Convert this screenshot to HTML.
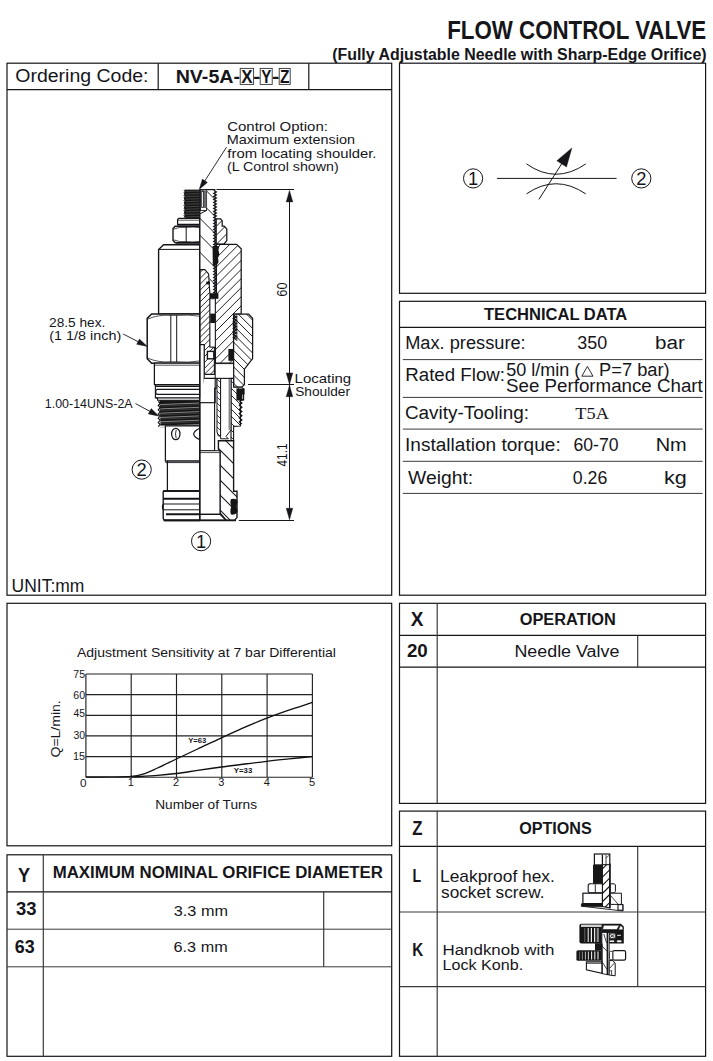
<!DOCTYPE html>
<html><head><meta charset="utf-8"><title>Flow Control Valve NV-5A</title>
<style>
html,body{margin:0;padding:0;background:#fff;}
body{width:713px;height:1061px;overflow:hidden;font-family:"Liberation Sans",sans-serif;}
svg{display:block;}
text{white-space:pre;}
</style></head><body>
<svg width="713" height="1061" viewBox="0 0 713 1061">
<rect x="0" y="0" width="713" height="1061" fill="#ffffff"/>
<text x="447.19" y="39.0" font-size="24.9" font-weight="bold" font-family='"Liberation Sans", sans-serif' fill="#15151a" textLength="259.01" lengthAdjust="spacingAndGlyphs" >FLOW CONTROL VALVE</text>
<text x="332.20" y="59.7" font-size="16.3" font-weight="bold" font-family='"Liberation Sans", sans-serif' fill="#15151a" textLength="374.40" lengthAdjust="spacingAndGlyphs" >(Fully Adjustable Needle with Sharp-Edge Orifice)</text>
<rect x="7.0" y="63.2" width="384.7" height="532.0" fill="none" stroke="#15151a" stroke-width="1.2"/>
<line x1="7.0" y1="89.6" x2="391.7" y2="89.6" stroke="#15151a" stroke-width="1.2" />
<line x1="158.2" y1="63.2" x2="158.2" y2="89.6" stroke="#15151a" stroke-width="1.2" />
<line x1="308.8" y1="63.2" x2="308.8" y2="89.6" stroke="#15151a" stroke-width="1.2" />
<rect x="399.5" y="63.2" width="306.1" height="230.1" fill="none" stroke="#15151a" stroke-width="1.2"/>
<rect x="399.5" y="301.3" width="306.1" height="293.9" fill="none" stroke="#15151a" stroke-width="1.2"/>
<line x1="399.5" y1="327.4" x2="705.6" y2="327.4" stroke="#15151a" stroke-width="1.2" />
<line x1="402.8" y1="359.6" x2="702.6" y2="359.6" stroke="#3a3a3a" stroke-width="1.0" />
<line x1="402.8" y1="397.4" x2="702.6" y2="397.4" stroke="#3a3a3a" stroke-width="1.0" />
<line x1="402.8" y1="429.1" x2="702.6" y2="429.1" stroke="#3a3a3a" stroke-width="1.0" />
<line x1="402.8" y1="461.3" x2="702.6" y2="461.3" stroke="#3a3a3a" stroke-width="1.0" />
<line x1="402.8" y1="493.4" x2="702.6" y2="493.4" stroke="#3a3a3a" stroke-width="1.0" />
<rect x="7.0" y="603.3" width="384.7" height="242.5" fill="none" stroke="#15151a" stroke-width="1.2"/>
<rect x="399.5" y="603.3" width="306.1" height="200.1" fill="none" stroke="#15151a" stroke-width="1.2"/>
<line x1="399.5" y1="635.4" x2="705.6" y2="635.4" stroke="#15151a" stroke-width="1.2" />
<line x1="399.5" y1="667.2" x2="705.6" y2="667.2" stroke="#15151a" stroke-width="1.2" />
<line x1="437.2" y1="603.3" x2="437.2" y2="803.4" stroke="#3a3a3a" stroke-width="1.2" />
<line x1="637.7" y1="635.4" x2="637.7" y2="667.2" stroke="#3a3a3a" stroke-width="1.2" />
<rect x="399.5" y="811.1" width="306.1" height="245.2" fill="none" stroke="#15151a" stroke-width="1.2"/>
<line x1="399.5" y1="846.4" x2="705.6" y2="846.4" stroke="#15151a" stroke-width="1.2" />
<line x1="399.5" y1="912.0" x2="705.6" y2="912.0" stroke="#3a3a3a" stroke-width="1.1" />
<line x1="399.5" y1="986.6" x2="705.6" y2="986.6" stroke="#3a3a3a" stroke-width="1.2" />
<line x1="437.2" y1="811.1" x2="437.2" y2="1056.3" stroke="#3a3a3a" stroke-width="1.2" />
<line x1="637.7" y1="846.4" x2="637.7" y2="986.6" stroke="#3a3a3a" stroke-width="1.2" />
<rect x="7.0" y="854.8" width="384.7" height="201.5" fill="none" stroke="#15151a" stroke-width="1.2"/>
<line x1="7.0" y1="891.8" x2="391.7" y2="891.8" stroke="#15151a" stroke-width="1.2" />
<line x1="7.0" y1="929.2" x2="391.7" y2="929.2" stroke="#3a3a3a" stroke-width="1.0" />
<line x1="7.0" y1="966.8" x2="391.7" y2="966.8" stroke="#3a3a3a" stroke-width="1.0" />
<line x1="43.3" y1="854.8" x2="43.3" y2="1056.3" stroke="#3a3a3a" stroke-width="1.2" />
<line x1="323.7" y1="891.8" x2="323.7" y2="966.8" stroke="#3a3a3a" stroke-width="1.2" />
<text x="15.27" y="82.1" font-size="18.3" font-weight="normal" font-family='"Liberation Sans", sans-serif' fill="#15151a" textLength="133.27" lengthAdjust="spacingAndGlyphs" >Ordering Code:</text>
<text x="175.68" y="82.8" font-size="18.9" font-weight="bold" font-family='"Liberation Sans", sans-serif' fill="#15151a" textLength="64.33" lengthAdjust="spacingAndGlyphs" >NV-5A-</text>
<rect x="240.2" y="68.4" width="13.4" height="16.0" fill="none" stroke="#333" stroke-width="0.9"/>
<text x="241.23" y="82.8" font-size="18.9" font-weight="bold" font-family='"Liberation Sans", sans-serif' fill="#15151a" textLength="11.33" lengthAdjust="spacingAndGlyphs" >X</text>
<rect x="260.2" y="68.4" width="12.0" height="16.0" fill="none" stroke="#333" stroke-width="0.9"/>
<text x="261.13" y="82.8" font-size="18.9" font-weight="bold" font-family='"Liberation Sans", sans-serif' fill="#15151a" textLength="10.12" lengthAdjust="spacingAndGlyphs" >Y</text>
<rect x="279.2" y="68.4" width="11.0" height="16.0" fill="none" stroke="#333" stroke-width="0.9"/>
<text x="279.93" y="82.8" font-size="18.9" font-weight="bold" font-family='"Liberation Sans", sans-serif' fill="#15151a" textLength="9.51" lengthAdjust="spacingAndGlyphs" >Z</text>
<text x="253.34" y="82.8" font-size="18.9" font-weight="bold" font-family='"Liberation Sans", sans-serif' fill="#15151a" textLength="7.12" lengthAdjust="spacingAndGlyphs" >-</text>
<text x="272.01" y="82.8" font-size="18.9" font-weight="bold" font-family='"Liberation Sans", sans-serif' fill="#15151a" textLength="7.39" lengthAdjust="spacingAndGlyphs" >-</text>
<text x="484.03" y="319.6" font-size="17.4" font-weight="bold" font-family='"Liberation Sans", sans-serif' fill="#15151a" textLength="143.30" lengthAdjust="spacingAndGlyphs" >TECHNICAL DATA</text>
<text x="405.20" y="349.3" font-size="17.6" font-weight="normal" font-family='"Liberation Sans", sans-serif' fill="#15151a" textLength="120.46" lengthAdjust="spacingAndGlyphs" >Max. pressure:</text>
<text x="577.33" y="349.3" font-size="17.6" font-weight="normal" font-family='"Liberation Sans", sans-serif' fill="#15151a" textLength="29.86" lengthAdjust="spacingAndGlyphs" >350</text>
<text x="655.06" y="349.3" font-size="17.6" font-weight="normal" font-family='"Liberation Sans", sans-serif' fill="#15151a" textLength="29.75" lengthAdjust="spacingAndGlyphs" >bar</text>
<text x="405.26" y="380.6" font-size="17.6" font-weight="normal" font-family='"Liberation Sans", sans-serif' fill="#15151a" textLength="99.74" lengthAdjust="spacingAndGlyphs" >Rated Flow:</text>
<text x="506.18" y="376.1" font-size="17.6" font-weight="normal" font-family='"Liberation Sans", sans-serif' fill="#15151a" textLength="74.11" lengthAdjust="spacingAndGlyphs" >50 l/min (</text>
<path d="M581.8 376.2 L587.4 366.4 L593.0 376.2 Z" fill="none" stroke="#15151a" stroke-width="0.9" />
<text x="599.09" y="376.1" font-size="17.6" font-weight="normal" font-family='"Liberation Sans", sans-serif' fill="#15151a" textLength="70.62" lengthAdjust="spacingAndGlyphs" >P=7 bar)</text>
<text x="506.06" y="392.1" font-size="17.6" font-weight="normal" font-family='"Liberation Sans", sans-serif' fill="#15151a" textLength="196.69" lengthAdjust="spacingAndGlyphs" >See Performance Chart</text>
<text x="404.95" y="419.0" font-size="17.6" font-weight="normal" font-family='"Liberation Sans", sans-serif' fill="#15151a" textLength="124.06" lengthAdjust="spacingAndGlyphs" >Cavity-Tooling:</text>
<text x="575.38" y="418.6" font-size="17.3" font-weight="normal" font-family='"Liberation Serif", serif' fill="#15151a" textLength="33.57" lengthAdjust="spacingAndGlyphs" >T5A</text>
<text x="405.04" y="450.8" font-size="17.6" font-weight="normal" font-family='"Liberation Sans", sans-serif' fill="#15151a" textLength="155.67" lengthAdjust="spacingAndGlyphs" >Installation torque:</text>
<text x="573.52" y="450.8" font-size="17.6" font-weight="normal" font-family='"Liberation Sans", sans-serif' fill="#15151a" textLength="45.04" lengthAdjust="spacingAndGlyphs" >60-70</text>
<text x="655.65" y="450.8" font-size="17.6" font-weight="normal" font-family='"Liberation Sans", sans-serif' fill="#15151a" textLength="31.05" lengthAdjust="spacingAndGlyphs" >Nm</text>
<text x="408.00" y="483.9" font-size="17.6" font-weight="normal" font-family='"Liberation Sans", sans-serif' fill="#15151a" textLength="65.23" lengthAdjust="spacingAndGlyphs" >Weight:</text>
<text x="572.79" y="483.9" font-size="17.6" font-weight="normal" font-family='"Liberation Sans", sans-serif' fill="#15151a" textLength="34.49" lengthAdjust="spacingAndGlyphs" >0.26</text>
<text x="663.94" y="483.9" font-size="17.6" font-weight="normal" font-family='"Liberation Sans", sans-serif' fill="#15151a" textLength="22.84" lengthAdjust="spacingAndGlyphs" >kg</text>
<text x="410.81" y="625.8" font-size="19.9" font-weight="bold" font-family='"Liberation Sans", sans-serif' fill="#15151a" textLength="12.67" lengthAdjust="spacingAndGlyphs" >X</text>
<text x="519.75" y="624.5" font-size="17.2" font-weight="bold" font-family='"Liberation Sans", sans-serif' fill="#15151a" textLength="95.97" lengthAdjust="spacingAndGlyphs" >OPERATION</text>
<text x="406.94" y="656.9" font-size="17.9" font-weight="bold" font-family='"Liberation Sans", sans-serif' fill="#15151a" textLength="20.85" lengthAdjust="spacingAndGlyphs" >20</text>
<text x="514.43" y="656.5" font-size="15.8" font-weight="normal" font-family='"Liberation Sans", sans-serif' fill="#15151a" textLength="104.96" lengthAdjust="spacingAndGlyphs" >Needle Valve</text>
<text x="412.26" y="835.4" font-size="19.5" font-weight="bold" font-family='"Liberation Sans", sans-serif' fill="#15151a" textLength="10.24" lengthAdjust="spacingAndGlyphs" >Z</text>
<text x="519.15" y="833.7" font-size="17.4" font-weight="bold" font-family='"Liberation Sans", sans-serif' fill="#15151a" textLength="72.60" lengthAdjust="spacingAndGlyphs" >OPTIONS</text>
<text x="412.57" y="882.0" font-size="17.7" font-weight="bold" font-family='"Liberation Sans", sans-serif' fill="#15151a" textLength="8.65" lengthAdjust="spacingAndGlyphs" >L</text>
<text x="440.07" y="881.7" font-size="16.2" font-weight="normal" font-family='"Liberation Sans", sans-serif' fill="#15151a" textLength="114.81" lengthAdjust="spacingAndGlyphs" >Leakproof hex.</text>
<text x="441.03" y="897.5" font-size="16.2" font-weight="normal" font-family='"Liberation Sans", sans-serif' fill="#15151a" textLength="103.42" lengthAdjust="spacingAndGlyphs" >socket screw.</text>
<text x="412.16" y="956.0" font-size="17.7" font-weight="bold" font-family='"Liberation Sans", sans-serif' fill="#15151a" textLength="10.99" lengthAdjust="spacingAndGlyphs" >K</text>
<text x="442.51" y="954.7" font-size="15.2" font-weight="normal" font-family='"Liberation Sans", sans-serif' fill="#15151a" textLength="111.86" lengthAdjust="spacingAndGlyphs" >Handknob with</text>
<text x="442.57" y="969.8" font-size="15.2" font-weight="normal" font-family='"Liberation Sans", sans-serif' fill="#15151a" textLength="80.60" lengthAdjust="spacingAndGlyphs" >Lock Konb.</text>
<text x="17.98" y="881.6" font-size="20.2" font-weight="bold" font-family='"Liberation Sans", sans-serif' fill="#15151a" textLength="12.13" lengthAdjust="spacingAndGlyphs" >Y</text>
<text x="52.67" y="877.9" font-size="17.2" font-weight="bold" font-family='"Liberation Sans", sans-serif' fill="#15151a" textLength="330.32" lengthAdjust="spacingAndGlyphs" >MAXIMUM NOMINAL ORIFICE DIAMETER</text>
<text x="15.99" y="914.8" font-size="18.3" font-weight="bold" font-family='"Liberation Sans", sans-serif' fill="#15151a" textLength="20.50" lengthAdjust="spacingAndGlyphs" >33</text>
<text x="14.73" y="953.2" font-size="18.3" font-weight="bold" font-family='"Liberation Sans", sans-serif' fill="#15151a" textLength="19.94" lengthAdjust="spacingAndGlyphs" >63</text>
<text x="173.79" y="915.5" font-size="14.8" font-weight="normal" font-family='"Liberation Sans", sans-serif' fill="#15151a" textLength="54.19" lengthAdjust="spacingAndGlyphs" >3.3 mm</text>
<text x="173.59" y="951.5" font-size="14.8" font-weight="normal" font-family='"Liberation Sans", sans-serif' fill="#15151a" textLength="54.09" lengthAdjust="spacingAndGlyphs" >6.3 mm</text>
<text x="227.15" y="131.0" font-size="13.6" font-weight="normal" font-family='"Liberation Sans", sans-serif' fill="#15151a" textLength="100.81" lengthAdjust="spacingAndGlyphs" >Control Option:</text>
<text x="226.71" y="144.2" font-size="13.6" font-weight="normal" font-family='"Liberation Sans", sans-serif' fill="#15151a" textLength="128.33" lengthAdjust="spacingAndGlyphs" >Maximum extension</text>
<text x="227.38" y="157.6" font-size="13.6" font-weight="normal" font-family='"Liberation Sans", sans-serif' fill="#15151a" textLength="149.08" lengthAdjust="spacingAndGlyphs" >from locating shoulder.</text>
<text x="227.01" y="170.9" font-size="13.6" font-weight="normal" font-family='"Liberation Sans", sans-serif' fill="#15151a" textLength="111.64" lengthAdjust="spacingAndGlyphs" >(L Control shown)</text>
<text x="49.02" y="326.9" font-size="13.6" font-weight="normal" font-family='"Liberation Sans", sans-serif' fill="#15151a" textLength="56.31" lengthAdjust="spacingAndGlyphs" >28.5 hex.</text>
<text x="49.30" y="340.4" font-size="13.6" font-weight="normal" font-family='"Liberation Sans", sans-serif' fill="#15151a" textLength="71.96" lengthAdjust="spacingAndGlyphs" >(1 1/8 inch)</text>
<text x="44.77" y="407.7" font-size="13.6" font-weight="normal" font-family='"Liberation Sans", sans-serif' fill="#15151a" textLength="87.86" lengthAdjust="spacingAndGlyphs" >1.00-14UNS-2A</text>
<text x="294.57" y="382.6" font-size="13.6" font-weight="normal" font-family='"Liberation Sans", sans-serif' fill="#15151a" textLength="56.58" lengthAdjust="spacingAndGlyphs" >Locating</text>
<text x="295.18" y="395.7" font-size="13.6" font-weight="normal" font-family='"Liberation Sans", sans-serif' fill="#15151a" textLength="54.83" lengthAdjust="spacingAndGlyphs" >Shoulder</text>
<text x="11.54" y="591.6" font-size="17.8" font-weight="normal" font-family='"Liberation Sans", sans-serif' fill="#15151a" textLength="72.91" lengthAdjust="spacingAndGlyphs" >UNIT:mm</text>
<line x1="216.5" y1="189.5" x2="294.0" y2="189.5" stroke="#15151a" stroke-width="1.0" />
<line x1="248.0" y1="384.5" x2="294.0" y2="384.5" stroke="#15151a" stroke-width="1.0" />
<line x1="238.8" y1="520.5" x2="294.0" y2="520.5" stroke="#15151a" stroke-width="1.0" />
<line x1="289.5" y1="192.0" x2="289.5" y2="518.0" stroke="#15151a" stroke-width="1.0" />
<path d="M289.5 190.4 L292.8 201.9 L286.2 201.9 Z" fill="#15151a" stroke="#15151a" stroke-width="0.4"/>
<path d="M289.5 384.4 L286.2 372.9 L292.8 372.9 Z" fill="#15151a" stroke="#15151a" stroke-width="0.4"/>
<path d="M289.5 385.2 L292.8 396.7 L286.2 396.7 Z" fill="#15151a" stroke="#15151a" stroke-width="0.4"/>
<path d="M289.5 519.8 L286.2 508.3 L292.8 508.3 Z" fill="#15151a" stroke="#15151a" stroke-width="0.4"/>
<text transform="translate(287.0 289.6) rotate(-90)" font-size="13.8" font-family='"Liberation Sans", sans-serif' fill="#15151a" text-anchor="middle" textLength="14.2" lengthAdjust="spacingAndGlyphs">60</text>
<text transform="translate(286.8 455.0) rotate(-90)" font-size="13.8" font-family='"Liberation Sans", sans-serif' fill="#15151a" text-anchor="middle" textLength="23.0" lengthAdjust="spacingAndGlyphs">41.1</text>
<line x1="226.5" y1="147.2" x2="202.6" y2="184.3" stroke="#15151a" stroke-width="0.9" />
<path d="M199.2 189.6 L202.4 179.1 L207.4 182.4 Z" fill="#15151a" stroke="#15151a" stroke-width="0.4"/>
<line x1="123.2" y1="334.0" x2="141.8" y2="343.6" stroke="#15151a" stroke-width="0.9" />
<path d="M147.4 346.5 L136.7 344.3 L139.4 339.0 Z" fill="#15151a" stroke="#15151a" stroke-width="0.4"/>
<line x1="135.5" y1="403.6" x2="153.4" y2="413.2" stroke="#15151a" stroke-width="0.9" />
<path d="M159.0 416.2 L148.3 413.9 L151.2 408.6 Z" fill="#15151a" stroke="#15151a" stroke-width="0.4"/>
<circle cx="141.7" cy="469.6" r="9.6" fill="#fff" stroke="#15151a" stroke-width="1.0"/>
<text x="141.7" y="475.9" font-size="18.3" font-weight="normal" font-family='"Liberation Sans", sans-serif' fill="#15151a" text-anchor="middle"  >2</text>
<circle cx="201.1" cy="541.2" r="9.6" fill="#fff" stroke="#15151a" stroke-width="1.0"/>
<text x="201.1" y="547.5" font-size="18.3" font-weight="normal" font-family='"Liberation Sans", sans-serif' fill="#15151a" text-anchor="middle"  >1</text>
<rect x="184.6" y="189.6" width="15.2" height="28.4" fill="#161616"/>
<line x1="185.2" y1="191.5" x2="199.5" y2="191.0" stroke="#7a7a7a" stroke-width="0.45" />
<line x1="185.2" y1="194.1" x2="199.5" y2="193.6" stroke="#7a7a7a" stroke-width="0.45" />
<line x1="185.2" y1="196.6" x2="199.5" y2="196.1" stroke="#7a7a7a" stroke-width="0.45" />
<line x1="185.2" y1="199.2" x2="199.5" y2="198.7" stroke="#7a7a7a" stroke-width="0.45" />
<line x1="185.2" y1="201.7" x2="199.5" y2="201.2" stroke="#7a7a7a" stroke-width="0.45" />
<line x1="185.2" y1="204.2" x2="199.5" y2="203.8" stroke="#7a7a7a" stroke-width="0.45" />
<line x1="185.2" y1="206.8" x2="199.5" y2="206.3" stroke="#7a7a7a" stroke-width="0.45" />
<line x1="185.2" y1="209.3" x2="199.5" y2="208.8" stroke="#7a7a7a" stroke-width="0.45" />
<line x1="185.2" y1="211.9" x2="199.5" y2="211.4" stroke="#7a7a7a" stroke-width="0.45" />
<line x1="185.2" y1="214.4" x2="199.5" y2="213.9" stroke="#7a7a7a" stroke-width="0.45" />
<line x1="185.2" y1="217.0" x2="199.5" y2="216.5" stroke="#7a7a7a" stroke-width="0.45" />
<path d="M184.0 190.2 L185.0 191.5 L184.0 192.8 L185.0 194.0 L184.0 195.3 L185.0 196.6 L184.0 197.9 L185.0 199.1 L184.0 200.4 L185.0 201.7 L184.0 203.0 L185.0 204.2 L184.0 205.5 L185.0 206.8 L184.0 208.1 L185.0 209.3 L184.0 210.6 L185.0 211.9 L184.0 213.2 L185.0 214.4 L184.0 215.7 L185.0 217.0" fill="none" stroke="#15151a" stroke-width="1.0" />
<path d="M178.6 218.4 L199.8 218.4 L199.8 224.3 L177.6 224.3 L177.6 219.4 Z" fill="#fff" stroke="#15151a" stroke-width="1.25" />
<line x1="177.8" y1="220.2" x2="199.8" y2="220.2" stroke="#15151a" stroke-width="0.75" />
<path d="M175.2 226.2 L199.8 226.2 L199.8 242.8 L175.2 242.8 L173.0 240.4 L173.0 228.6 Z" fill="#fff" stroke="#15151a" stroke-width="1.375" />
<line x1="186.2" y1="226.6" x2="186.2" y2="242.6" stroke="#15151a" stroke-width="1.0" />
<path d="M173.4 229.2 Q179.5 226.6 186.2 227.4 Q193 226.6 199.6 227.6" fill="none" stroke="#15151a" stroke-width="0.75" />
<path d="M173.4 239.8 Q179.5 242.4 186.2 241.6 Q193 242.4 199.6 241.4" fill="none" stroke="#15151a" stroke-width="0.75" />
<line x1="177.5" y1="225.2" x2="199.8" y2="225.2" stroke="#15151a" stroke-width="0.875" />
<path d="M163.6 244.8 L199.8 244.8 L199.8 314.0 L158.6 314.0 L158.6 249.6 Z" fill="#fff" stroke="#15151a" stroke-width="1.375" />
<line x1="158.6" y1="249.4" x2="199.8" y2="249.4" stroke="#15151a" stroke-width="1.0" />
<line x1="176.0" y1="243.8" x2="199.8" y2="243.8" stroke="#15151a" stroke-width="0.875" />
<path d="M151.6 314.0 L199.8 314.0 L199.8 363.2 L151.6 363.2 L147.2 358.8 L147.2 318.4 Z" fill="#fff" stroke="#15151a" stroke-width="1.5" />
<line x1="170.8" y1="315.2" x2="170.8" y2="362.0" stroke="#15151a" stroke-width="1.0" />
<line x1="176.7" y1="315.2" x2="176.7" y2="362.0" stroke="#15151a" stroke-width="1.0" />
<path d="M147.6 319.2 Q158 314.4 170.8 315.4 L176.7 315.4 Q188 314.4 199.6 316.2" fill="none" stroke="#15151a" stroke-width="0.75" />
<path d="M147.6 358.0 Q158 362.8 170.8 361.8 L176.7 361.8 Q188 362.8 199.6 361.0" fill="none" stroke="#15151a" stroke-width="0.75" />
<path d="M154.4 363.2 L199.8 363.2 L199.8 384.6 L154.4 384.6 Z" fill="#fff" stroke="#15151a" stroke-width="1.25" />
<line x1="154.4" y1="365.2" x2="199.8" y2="365.2" stroke="#15151a" stroke-width="0.75" />
<path d="M155.4 384.6 L199.8 384.6 L199.8 400.2 L157.6 400.2 L157.6 398.0 L155.4 398.0 Z" fill="#fff" stroke="#15151a" stroke-width="1.125" />
<line x1="155.4" y1="386.2" x2="199.8" y2="386.2" stroke="#15151a" stroke-width="1.5" />
<line x1="156.6" y1="389.4" x2="199.8" y2="389.4" stroke="#15151a" stroke-width="1.25" />
<line x1="156.6" y1="394.4" x2="199.8" y2="394.4" stroke="#15151a" stroke-width="1.25" />
<line x1="156.0" y1="397.9" x2="199.8" y2="397.9" stroke="#15151a" stroke-width="1.25" />
<path d="M156.8 389.4 Q154.6 391.9 156.8 394.4" fill="none" stroke="#15151a" stroke-width="1.125" />
<path d="M159.4 400.3 L199.8 400.3 L199.8 425.8 L160.6 425.8 Z" fill="#161616"/>
<line x1="159.6" y1="404.6" x2="199.6" y2="403.0" stroke="#b8b8b8" stroke-width="0.7" />
<line x1="159.6" y1="406.2" x2="199.6" y2="404.6" stroke="#777" stroke-width="0.35" />
<line x1="159.6" y1="408.9" x2="199.6" y2="407.3" stroke="#b8b8b8" stroke-width="0.7" />
<line x1="159.6" y1="410.5" x2="199.6" y2="408.9" stroke="#777" stroke-width="0.35" />
<line x1="159.6" y1="413.2" x2="199.6" y2="411.6" stroke="#b8b8b8" stroke-width="0.7" />
<line x1="159.6" y1="414.8" x2="199.6" y2="413.2" stroke="#777" stroke-width="0.35" />
<line x1="159.6" y1="417.5" x2="199.6" y2="415.9" stroke="#b8b8b8" stroke-width="0.7" />
<line x1="159.6" y1="419.1" x2="199.6" y2="417.5" stroke="#777" stroke-width="0.35" />
<line x1="159.6" y1="421.8" x2="199.6" y2="420.2" stroke="#b8b8b8" stroke-width="0.7" />
<line x1="159.6" y1="423.4" x2="199.6" y2="421.8" stroke="#777" stroke-width="0.35" />
<line x1="159.6" y1="426.1" x2="199.6" y2="424.5" stroke="#b8b8b8" stroke-width="0.7" />
<line x1="159.6" y1="427.7" x2="199.6" y2="426.1" stroke="#777" stroke-width="0.35" />
<path d="M158.2 401.4 L160.2 403.5 L158.2 405.6 L160.2 407.7 L158.2 409.8 L160.2 411.9 L158.2 414.0 L160.2 416.1 L158.2 418.2 L160.2 420.3 L158.2 422.4 L160.2 424.5 L158.2 426.6" fill="none" stroke="#15151a" stroke-width="1.125" />
<path d="M165.4 425.8 L199.8 425.8 L199.8 461.0 L165.4 461.0 Z" fill="#fff" stroke="#15151a" stroke-width="1.25" />
<ellipse cx="175.8" cy="434.0" rx="4.2" ry="5.7" fill="#fff" stroke="#15151a" stroke-width="1.2"/>
<path d="M176.2 429.8 Q174.8 434.0 176.2 438.2" fill="none" stroke="#15151a" stroke-width="0.875" />
<path d="M199.8 428.3 Q187.6 434.0 199.8 439.7" fill="none" stroke="#15151a" stroke-width="1.25" />
<line x1="165.4" y1="462.6" x2="199.8" y2="462.6" stroke="#15151a" stroke-width="0.875" />
<path d="M167.4 461.0 L199.8 461.0 L199.8 491.0 L167.4 491.0 Z" fill="#fff" stroke="#15151a" stroke-width="1.25" />
<line x1="167.4" y1="462.6" x2="199.8" y2="462.6" stroke="#15151a" stroke-width="0.875" />
<path d="M163.8 491.0 L199.8 491.0 L199.8 520.4 L164.4 520.4 L163.2 518.6 L163.2 491.8 Z" fill="#fff" stroke="#15151a" stroke-width="1.375" />
<line x1="163.2" y1="491.0" x2="199.8" y2="491.0" stroke="#15151a" stroke-width="1.75" />
<line x1="163.2" y1="498.8" x2="199.8" y2="498.8" stroke="#15151a" stroke-width="1.875" />
<line x1="163.4" y1="504.0" x2="199.8" y2="504.0" stroke="#15151a" stroke-width="1.0" />
<line x1="163.4" y1="509.8" x2="199.8" y2="509.8" stroke="#15151a" stroke-width="1.0" />
<line x1="166.0" y1="514.2" x2="199.8" y2="514.2" stroke="#15151a" stroke-width="1.875" />
<line x1="164.0" y1="520.3" x2="199.8" y2="520.3" stroke="#15151a" stroke-width="1.75" />
<path d="M163.4 503.8 Q161.4 506.9 163.4 510.0" fill="none" stroke="#15151a" stroke-width="1.125" />
<clipPath id="hc1"><path d="M199.8 189.6 L215.0 189.6 L215.0 296.0 L212.0 296.0 L208.6 274.0 L204.8 269.6 L199.8 269.6 Z"/></clipPath>
<path d="M199.8 189.6 L215.0 189.6 L215.0 296.0 L212.0 296.0 L208.6 274.0 L204.8 269.6 L199.8 269.6 Z" fill="#fff" stroke="none"/>
<path clip-path="url(#hc1)" d="M198.8 166.2 L216.0 183.4 M198.8 183.2 L216.0 200.4 M198.8 200.2 L216.0 217.4 M198.8 217.2 L216.0 234.4 M198.8 234.2 L216.0 251.4 M198.8 251.2 L216.0 268.4 M198.8 268.2 L216.0 285.4 M198.8 285.2 L216.0 302.4 M198.8 302.2 L216.0 319.4" stroke="#15151a" stroke-width="0.95" fill="none"/>
<path d="M199.8 189.6 L215.4 189.6" fill="none" stroke="#15151a" stroke-width="1.25" />
<rect x="200.4" y="189.8" width="6.2" height="20.6" fill="#fff" stroke="#15151a" stroke-width="0.9"/>
<rect x="203.6" y="190.4" width="2.8" height="17.6" fill="#6a6a6a"/>
<rect x="201.7" y="190.8" width="1.9" height="16.6" fill="#fff" stroke="#15151a" stroke-width="0.8"/>
<path d="M199.8 214.0 L206.6 210.4" fill="none" stroke="#15151a" stroke-width="1.0" />
<path d="M213.9 190.4 L216.2 191.9 L213.9 193.4 L216.2 194.9 L213.9 196.4 L216.2 197.9 L213.9 199.4 L216.2 200.9 L213.9 202.4 L216.2 203.9 L213.9 205.4 L216.2 206.9 L213.9 208.4 L216.2 209.9 L213.9 211.4 L216.2 212.9 L213.9 214.4 L216.2 215.9 L213.9 217.4 L216.2 218.9 L213.9 220.4 L216.2 221.9 L213.9 223.4 L216.2 224.9 L213.9 226.4 L216.2 227.9 L213.9 229.4 L216.2 230.9 L213.9 232.4 L216.2 233.9 L213.9 235.4 L216.2 236.9 L213.9 238.4 L216.2 239.9 L213.9 241.4 L216.2 242.9 L213.9 244.4 L216.2 245.9 L213.9 247.4 L216.2 248.9 L213.9 250.4 L216.2 251.9 L213.9 253.4 L216.2 254.9 L213.9 256.4 L216.2 257.9 L213.9 259.4 L216.2 260.9 L213.9 262.4 L216.2 263.9 L213.9 265.4 L216.2 266.9 L213.9 268.4 L216.2 269.9 L213.9 271.4 L216.2 272.9 L213.9 274.4 L216.2 275.9 L213.9 277.4 L216.2 278.9 L213.9 280.4 L216.2 281.9 L213.9 283.4 L216.2 284.9 L213.9 286.4 L216.2 287.9 L213.9 289.4 L216.2 290.9 L213.9 292.4 L216.2 293.9 L213.9 295.4" fill="none" stroke="#15151a" stroke-width="1.4375" />
<clipPath id="hc2"><path d="M216.2 218.8 L220.6 218.8 L222.2 221.0 L222.2 226.0 L224.2 226.0 L226.8 229.0 L226.8 240.6 L224.0 244.0 L216.2 244.0 Z"/></clipPath>
<path d="M216.2 218.8 L220.6 218.8 L222.2 221.0 L222.2 226.0 L224.2 226.0 L226.8 229.0 L226.8 240.6 L224.0 244.0 L216.2 244.0 Z" fill="#fff" stroke="none"/>
<path clip-path="url(#hc2)" d="M215.2 218.4 L227.8 205.8 M215.2 227.4 L227.8 214.8 M215.2 236.4 L227.8 223.8 M215.2 245.4 L227.8 232.8 M215.2 254.4 L227.8 241.8 M215.2 263.4 L227.8 250.8" stroke="#15151a" stroke-width="0.95" fill="none"/>
<path d="M216.2 218.8 L220.6 218.8 L222.2 221.0 L222.2 226.0 L224.2 226.0 L226.8 229.0 L226.8 240.6 L224.0 244.0 L216.2 244.0 Z" fill="none" stroke="#15151a" stroke-width="1.25" stroke-linejoin="miter"/>
<clipPath id="hc3"><path d="M216.4 244.4 L236.6 244.4 L241.2 248.8 L241.2 314.0 L233.6 314.0 L233.6 363.2 L215.4 363.2 L215.4 298.0 L216.4 296.0 Z"/></clipPath>
<path d="M216.4 244.4 L236.6 244.4 L241.2 248.8 L241.2 314.0 L233.6 314.0 L233.6 363.2 L215.4 363.2 L215.4 298.0 L216.4 296.0 Z" fill="#fff" stroke="none"/>
<path clip-path="url(#hc3)" d="M214.4 241.6 L242.2 213.8 M214.4 250.7 L242.2 222.9 M214.4 259.8 L242.2 232.0 M214.4 268.9 L242.2 241.1 M214.4 278.0 L242.2 250.2 M214.4 287.1 L242.2 259.3 M214.4 296.2 L242.2 268.4 M214.4 305.3 L242.2 277.5 M214.4 314.4 L242.2 286.6 M214.4 323.5 L242.2 295.7 M214.4 332.6 L242.2 304.8 M214.4 341.7 L242.2 313.9 M214.4 350.8 L242.2 323.0 M214.4 359.9 L242.2 332.1 M214.4 369.0 L242.2 341.2 M214.4 378.1 L242.2 350.3 M214.4 387.2 L242.2 359.4 M214.4 396.3 L242.2 368.5" stroke="#15151a" stroke-width="0.95" fill="none"/>
<path d="M216.4 244.4 L236.6 244.4 L241.2 248.8 L241.2 314.0 L233.6 314.0 L233.6 363.2 L215.4 363.2 L215.4 298.0 L216.4 296.0 Z" fill="none" stroke="#15151a" stroke-width="1.25" stroke-linejoin="miter"/>
<path d="M212.6 246.0 L219.4 246.0 L218.4 250 L219.4 254 L218.0 258 L218.6 262 L217.0 265.0 L212.8 265.0 Z" fill="#161616"/>
<path d="M209.8 293.2 L218.4 293.2 L218.4 298.8 L209.8 298.8 Z" fill="#161616"/>
<clipPath id="hc4"><path d="M199.8 269.6 L204.8 269.6 L208.6 274.0 L210.0 296.0 L210.0 347.0 L214.4 347.0 L214.4 374.4 L204.2 374.4 L204.2 344.6 L199.8 344.6 Z"/></clipPath>
<path d="M199.8 269.6 L204.8 269.6 L208.6 274.0 L210.0 296.0 L210.0 347.0 L214.4 347.0 L214.4 374.4 L204.2 374.4 L204.2 344.6 L199.8 344.6 Z" fill="#fff" stroke="none"/>
<path clip-path="url(#hc4)" d="M198.8 267.8 L215.4 251.2 M198.8 273.7 L215.4 257.1 M198.8 279.6 L215.4 263.0 M198.8 285.5 L215.4 268.9 M198.8 291.4 L215.4 274.8 M198.8 297.3 L215.4 280.7 M198.8 303.2 L215.4 286.6 M198.8 309.1 L215.4 292.5 M198.8 315.0 L215.4 298.4 M198.8 320.9 L215.4 304.3 M198.8 326.8 L215.4 310.2 M198.8 332.7 L215.4 316.1 M198.8 338.6 L215.4 322.0 M198.8 344.5 L215.4 327.9 M198.8 350.4 L215.4 333.8 M198.8 356.3 L215.4 339.7 M198.8 362.2 L215.4 345.6 M198.8 368.1 L215.4 351.5 M198.8 374.0 L215.4 357.4 M198.8 379.9 L215.4 363.3 M198.8 385.8 L215.4 369.2 M198.8 391.7 L215.4 375.1" stroke="#15151a" stroke-width="0.90" fill="none"/>
<path d="M199.8 269.6 L204.8 269.6 L208.6 274.0 L210.0 296.0 L210.0 347.0 L214.4 347.0 L214.4 374.4 L204.2 374.4 L204.2 344.6 L199.8 344.6 Z" fill="none" stroke="#15151a" stroke-width="1.12" stroke-linejoin="miter"/>
<rect x="210.0" y="298.8" width="5.2" height="48.2" fill="#fff" stroke="#15151a" stroke-width="0.8"/>
<rect x="210.2" y="313.6" width="4.8" height="9.4" fill="#161616"/>
<rect x="206.2" y="281.6" width="3.8" height="2.8" fill="#161616"/>
<rect x="207.4" y="351.4" width="6.4" height="7.4" fill="#fff" stroke="#15151a" stroke-width="1.4"/>
<path d="M199.8 344.6 L204.2 344.6 L204.2 402.6 L199.8 402.6 Z" fill="#fff" stroke="#15151a" stroke-width="1.125" />
<clipPath id="hc5"><path d="M233.6 314.0 L248.6 314.0 L252.6 318.2 L252.6 358.6 L244.4 369.2 L244.4 384.8 L241.6 387.2 L233.6 387.2 L233.6 363.2 Z"/></clipPath>
<path d="M233.6 314.0 L248.6 314.0 L252.6 318.2 L252.6 358.6 L244.4 369.2 L244.4 384.8 L241.6 387.2 L233.6 387.2 L233.6 363.2 Z" fill="#fff" stroke="none"/>
<path clip-path="url(#hc5)" d="M232.6 292.0 L253.6 313.0 M232.6 300.2 L253.6 321.2 M232.6 308.4 L253.6 329.4 M232.6 316.6 L253.6 337.6 M232.6 324.8 L253.6 345.8 M232.6 333.0 L253.6 354.0 M232.6 341.2 L253.6 362.2 M232.6 349.4 L253.6 370.4 M232.6 357.6 L253.6 378.6 M232.6 365.8 L253.6 386.8 M232.6 374.0 L253.6 395.0 M232.6 382.2 L253.6 403.2 M232.6 390.4 L253.6 411.4" stroke="#15151a" stroke-width="0.95" fill="none"/>
<path d="M233.6 314.0 L248.6 314.0 L252.6 318.2 L252.6 358.6 L244.4 369.2 L244.4 384.8 L241.6 387.2 L233.6 387.2 L233.6 363.2 Z" fill="none" stroke="#15151a" stroke-width="1.25" stroke-linejoin="miter"/>
<path d="M233.6 315.4 L236.2 317.0 L233.6 318.6 L236.2 320.2 L233.6 321.8 L236.2 323.4 L233.6 325.0 L236.2 326.6 L233.6 328.2 L236.2 329.8 L233.6 331.4 L236.2 333.0 L233.6 334.6 L236.2 336.2 L233.6 337.8 L236.2 339.4" fill="none" stroke="#15151a" stroke-width="1.5625" />
<line x1="236.8" y1="314.4" x2="236.8" y2="341.0" stroke="#15151a" stroke-width="0.875" />
<rect x="228.4" y="349.0" width="5.2" height="11.8" fill="#161616"/>
<rect x="215.2" y="363.6" width="18.4" height="14.8" fill="#fff" stroke="#15151a" stroke-width="1.0"/>
<clipPath id="hc6"><path d="M231.0 378.4 L233.6 378.4 L233.6 387.2 L241.6 387.2 L243.6 389.0 L243.6 400.0 L240.4 400.4 L240.4 426.0 L233.6 426.4 L233.6 440.8 L231.0 440.8 Z"/></clipPath>
<path d="M231.0 378.4 L233.6 378.4 L233.6 387.2 L241.6 387.2 L243.6 389.0 L243.6 400.0 L240.4 400.4 L240.4 426.0 L233.6 426.4 L233.6 440.8 L231.0 440.8 Z" fill="#fff" stroke="none"/>
<path clip-path="url(#hc6)" d="M230.0 359.0 L244.6 373.6 M230.0 366.0 L244.6 380.6 M230.0 373.0 L244.6 387.6 M230.0 380.0 L244.6 394.6 M230.0 387.0 L244.6 401.6 M230.0 394.0 L244.6 408.6 M230.0 401.0 L244.6 415.6 M230.0 408.0 L244.6 422.6 M230.0 415.0 L244.6 429.6 M230.0 422.0 L244.6 436.6 M230.0 429.0 L244.6 443.6 M230.0 436.0 L244.6 450.6 M230.0 443.0 L244.6 457.6" stroke="#15151a" stroke-width="0.90" fill="none"/>
<path d="M231.0 378.4 L233.6 378.4 L233.6 387.2 L241.6 387.2 L243.6 389.0 L243.6 400.0 L240.4 400.4 L240.4 426.0 L233.6 426.4 L233.6 440.8 L231.0 440.8 Z" fill="none" stroke="#15151a" stroke-width="1.12" stroke-linejoin="miter"/>
<path d="M236.4 388.6 L244.6 388.6 L244.6 394.4 L242.4 394.6 L242.4 400.4 L236.4 400.4 L236.4 394.8 Z" fill="#161616"/>
<path d="M239.4 401.0 L241.8 403.1 L239.4 405.2 L241.8 407.3 L239.4 409.4 L241.8 411.5 L239.4 413.6 L241.8 415.7 L239.4 417.8 L241.8 419.9 L239.4 422.0 L241.8 424.1" fill="none" stroke="#15151a" stroke-width="1.375" />
<path d="M204.2 378.4 L215.2 378.4 L215.2 402.8 L199.8 402.8" fill="#fff" stroke="#15151a" stroke-width="1.125" />
<path d="M215.2 378.4 L217.0 378.4 L217.0 388.0 L214.6 388.0 L214.6 402.8" fill="none" stroke="#15151a" stroke-width="1.0" />
<clipPath id="hc7"><path d="M217.0 378.4 L220.6 378.4 L220.6 436.0 L218.4 436.0 L217.0 432.0 Z"/></clipPath>
<path d="M217.0 378.4 L220.6 378.4 L220.6 436.0 L218.4 436.0 L217.0 432.0 Z" fill="#fff" stroke="none"/>
<path clip-path="url(#hc7)" d="M216.0 372.0 L221.6 377.6 M216.0 378.0 L221.6 383.6 M216.0 384.0 L221.6 389.6 M216.0 390.0 L221.6 395.6 M216.0 396.0 L221.6 401.6 M216.0 402.0 L221.6 407.6 M216.0 408.0 L221.6 413.6 M216.0 414.0 L221.6 419.6 M216.0 420.0 L221.6 425.6 M216.0 426.0 L221.6 431.6 M216.0 432.0 L221.6 437.6 M216.0 438.0 L221.6 443.6" stroke="#15151a" stroke-width="0.78" fill="none"/>
<path d="M217.0 378.4 L220.6 378.4 L220.6 436.0 L218.4 436.0 L217.0 432.0 Z" fill="none" stroke="#15151a" stroke-width="1.00" stroke-linejoin="miter"/>
<path d="M220.6 378.4 L231.0 378.4 L231.0 430.0 L226.0 436.4 L228.4 438.8 L220.6 438.8 Z" fill="#fff" stroke="#15151a" stroke-width="1.0" />
<line x1="229.2" y1="378.4" x2="229.2" y2="430.0" stroke="#15151a" stroke-width="0.75" />
<clipPath id="hc8"><path d="M218.4 440.8 L233.6 440.8 L233.6 491.2 L237.0 491.2 L237.0 517.6 L234.4 520.4 L226.4 520.4 L220.0 513.0 L220.0 451.0 L218.4 449.0 Z"/></clipPath>
<path d="M218.4 440.8 L233.6 440.8 L233.6 491.2 L237.0 491.2 L237.0 517.6 L234.4 520.4 L226.4 520.4 L220.0 513.0 L220.0 451.0 L218.4 449.0 Z" fill="#fff" stroke="none"/>
<path clip-path="url(#hc8)" d="M217.4 417.4 L238.0 438.0 M217.4 432.4 L238.0 453.0 M217.4 447.4 L238.0 468.0 M217.4 462.4 L238.0 483.0 M217.4 477.4 L238.0 498.0 M217.4 492.4 L238.0 513.0 M217.4 507.4 L238.0 528.0 M217.4 522.4 L238.0 543.0" stroke="#15151a" stroke-width="1.01" fill="none"/>
<path d="M218.4 440.8 L233.6 440.8 L233.6 491.2 L237.0 491.2 L237.0 517.6 L234.4 520.4 L226.4 520.4 L220.0 513.0 L220.0 451.0 L218.4 449.0 Z" fill="none" stroke="#15151a" stroke-width="1.38" stroke-linejoin="miter"/>
<path d="M199.8 402.8 L214.6 402.8 L214.6 450.8 L199.8 450.8 Z" fill="#fff" stroke="#15151a" stroke-width="1.125" />
<path d="M199.8 450.8 L220.0 450.8 L220.0 514.4 L199.8 514.4 Z" fill="#fff" stroke="#15151a" stroke-width="1.125" />
<path d="M199.8 514.4 L220.0 514.4 L226.0 520.4 L199.8 520.4 Z" fill="#fff" stroke="#15151a" stroke-width="1.125" />
<line x1="199.8" y1="452.6" x2="220.0" y2="452.6" stroke="#15151a" stroke-width="0.75" />
<path d="M231.0 499.0 Q237.6 498.0 237.6 502.0 L236.4 506.6 L237.6 510.6 Q237.6 515.2 231.0 514.6 Q229.6 510.6 231.4 506.8 Q229.6 502.6 231.0 499.0 Z" fill="#161616"/>
<line x1="163.6" y1="520.4" x2="236.0" y2="520.4" stroke="#15151a" stroke-width="1.625" />
<line x1="199.8" y1="189.6" x2="199.8" y2="520.4" stroke="#15151a" stroke-width="1.375" />
<line x1="496.9" y1="178.4" x2="616.6" y2="178.4" stroke="#15151a" stroke-width="1.0" />
<path d="M526.5 163.9 Q555.8 184.6 585.8 163.9" fill="none" stroke="#15151a" stroke-width="1.0" />
<path d="M526.5 193.9 Q555.8 173.6 585.8 193.9" fill="none" stroke="#15151a" stroke-width="1.0" />
<line x1="538.9" y1="199.4" x2="567.6" y2="154.6" stroke="#15151a" stroke-width="1.0" />
<path d="M571.9 147.9 L566.5 167.0 L556.8 160.8 Z" fill="#15151a" stroke="#15151a" stroke-width="0.4"/>
<circle cx="473.1" cy="178.4" r="9.6" fill="#fff" stroke="#15151a" stroke-width="1.0"/>
<text x="473.1" y="184.7" font-size="18.3" font-weight="normal" font-family='"Liberation Sans", sans-serif' fill="#15151a" text-anchor="middle"  >1</text>
<circle cx="641.3" cy="178.4" r="9.6" fill="#fff" stroke="#15151a" stroke-width="1.0"/>
<text x="641.3" y="184.7" font-size="18.3" font-weight="normal" font-family='"Liberation Sans", sans-serif' fill="#15151a" text-anchor="middle"  >2</text>
<line x1="85.9" y1="674.0" x2="85.9" y2="777.2" stroke="#222" stroke-width="1.15" />
<line x1="85.9" y1="674.0" x2="312.4" y2="674.0" stroke="#222" stroke-width="1.15" />
<line x1="131.2" y1="674.0" x2="131.2" y2="777.2" stroke="#222" stroke-width="1.15" />
<line x1="85.9" y1="694.6" x2="312.4" y2="694.6" stroke="#222" stroke-width="1.15" />
<line x1="176.5" y1="674.0" x2="176.5" y2="777.2" stroke="#222" stroke-width="1.15" />
<line x1="85.9" y1="715.3" x2="312.4" y2="715.3" stroke="#222" stroke-width="1.15" />
<line x1="221.8" y1="674.0" x2="221.8" y2="777.2" stroke="#222" stroke-width="1.15" />
<line x1="85.9" y1="735.9" x2="312.4" y2="735.9" stroke="#222" stroke-width="1.15" />
<line x1="267.1" y1="674.0" x2="267.1" y2="777.2" stroke="#222" stroke-width="1.15" />
<line x1="85.9" y1="756.6" x2="312.4" y2="756.6" stroke="#222" stroke-width="1.15" />
<line x1="312.4" y1="674.0" x2="312.4" y2="777.2" stroke="#222" stroke-width="1.15" />
<line x1="85.9" y1="777.2" x2="312.4" y2="777.2" stroke="#222" stroke-width="1.15" />
<text x="76.96" y="656.8" font-size="13.0" font-weight="normal" font-family='"Liberation Sans", sans-serif' fill="#15151a" textLength="258.96" lengthAdjust="spacingAndGlyphs" >Adjustment Sensitivity at 7 bar Differential</text>
<text x="155.17" y="808.8" font-size="13.3" font-weight="normal" font-family='"Liberation Sans", sans-serif' fill="#15151a" textLength="101.91" lengthAdjust="spacingAndGlyphs" >Number of Turns</text>
<text transform="translate(59.5 728.9) rotate(-90)" font-size="13.7" font-family='"Liberation Sans", sans-serif' fill="#15151a" text-anchor="middle" textLength="57.2" lengthAdjust="spacingAndGlyphs">Q=L/min.</text>
<text x="73.27" y="678.2" font-size="11.0" font-weight="normal" font-family='"Liberation Sans", sans-serif' fill="#15151a" textLength="11.78" lengthAdjust="spacingAndGlyphs" >75</text>
<text x="73.27" y="698.8" font-size="11.0" font-weight="normal" font-family='"Liberation Sans", sans-serif' fill="#15151a" textLength="11.75" lengthAdjust="spacingAndGlyphs" >60</text>
<text x="73.57" y="716.8" font-size="11.0" font-weight="normal" font-family='"Liberation Sans", sans-serif' fill="#15151a" textLength="11.47" lengthAdjust="spacingAndGlyphs" >45</text>
<text x="73.41" y="738.5" font-size="11.0" font-weight="normal" font-family='"Liberation Sans", sans-serif' fill="#15151a" textLength="11.61" lengthAdjust="spacingAndGlyphs" >30</text>
<text x="72.99" y="760.4" font-size="11.0" font-weight="normal" font-family='"Liberation Sans", sans-serif' fill="#15151a" textLength="12.07" lengthAdjust="spacingAndGlyphs" >15</text>
<text x="79.93" y="786.5" font-size="10.8" font-weight="normal" font-family='"Liberation Sans", sans-serif' fill="#15151a" textLength="6.52" lengthAdjust="spacingAndGlyphs" >0</text>
<text x="130.8" y="786.0" font-size="11" font-weight="normal" font-family='"Liberation Sans", sans-serif' fill="#15151a" text-anchor="middle"  >1</text>
<text x="176.1" y="786.0" font-size="11" font-weight="normal" font-family='"Liberation Sans", sans-serif' fill="#15151a" text-anchor="middle"  >2</text>
<text x="221.4" y="786.0" font-size="11" font-weight="normal" font-family='"Liberation Sans", sans-serif' fill="#15151a" text-anchor="middle"  >3</text>
<text x="266.7" y="786.0" font-size="11" font-weight="normal" font-family='"Liberation Sans", sans-serif' fill="#15151a" text-anchor="middle"  >4</text>
<text x="312.0" y="786.0" font-size="11" font-weight="normal" font-family='"Liberation Sans", sans-serif' fill="#15151a" text-anchor="middle"  >5</text>
<path d="M85.9 777.0 C89.9 777.0 102.5 777.0 110.0 776.9 C117.5 776.8 125.5 776.8 131.0 776.4 C136.5 776.0 138.5 775.6 142.9 774.2 C147.3 772.8 151.9 770.5 157.5 768.0 C163.1 765.5 169.6 762.2 176.3 759.0 C183.0 755.8 190.1 752.5 197.6 749.0 C205.1 745.5 213.6 741.4 221.5 737.8 C229.4 734.2 237.4 730.5 245.0 727.2 C252.6 723.9 259.5 721.0 266.8 718.2 C274.1 715.4 281.2 712.8 288.8 710.2 C296.4 707.6 308.5 703.7 312.4 702.4" fill="none" stroke="#111" stroke-width="1.35" />
<path d="M131.0 776.9 C135.4 776.6 149.9 776.0 157.5 775.4 C165.1 774.8 169.6 774.3 176.3 773.5 C183.0 772.7 190.1 771.5 197.6 770.4 C205.1 769.3 213.6 768.1 221.5 767.0 C229.4 765.9 237.4 765.0 245.0 764.0 C252.6 763.0 259.5 762.1 266.8 761.3 C274.1 760.4 281.2 759.7 288.8 758.9 C296.4 758.1 308.5 757.0 312.4 756.6" fill="none" stroke="#111" stroke-width="1.35" />
<text x="188.27" y="743.4" font-size="7.2" font-weight="bold" font-family='"Liberation Sans", sans-serif' fill="#15151a" textLength="18.01" lengthAdjust="spacingAndGlyphs" >Y=63</text>
<text x="233.86" y="773.4" font-size="7.2" font-weight="bold" font-family='"Liberation Sans", sans-serif' fill="#15151a" textLength="18.42" lengthAdjust="spacingAndGlyphs" >Y=33</text>
<rect x="594.4" y="854.0" width="15.4" height="11.0" fill="#fff" stroke="#15151a" stroke-width="1.2"/>
<line x1="602.4" y1="854.6" x2="602.4" y2="865.0" stroke="#15151a" stroke-width="1.3" />
<line x1="606.0" y1="855.0" x2="606.0" y2="865.0" stroke="#15151a" stroke-width="0.8" />
<line x1="606.0" y1="858.0" x2="609.4" y2="855.0" stroke="#15151a" stroke-width="0.7" />
<rect x="593.0" y="864.8" width="9.6" height="19.4" fill="#161616"/>
<clipPath id="hc9"><path d="M602.4 864.8 L609.8 864.8 L609.8 907.8 L602.4 906.6 Z"/></clipPath>
<path d="M602.4 864.8 L609.8 864.8 L609.8 907.8 L602.4 906.6 Z" fill="#fff" stroke="none"/>
<path clip-path="url(#hc9)" d="M601.4 861.7 L610.8 852.3 M601.4 869.9 L610.8 860.5 M601.4 878.1 L610.8 868.7 M601.4 886.3 L610.8 876.9 M601.4 894.5 L610.8 885.1 M601.4 902.7 L610.8 893.3 M601.4 910.9 L610.8 901.5 M601.4 919.1 L610.8 909.7" stroke="#15151a" stroke-width="1.12" fill="none"/>
<path d="M602.4 864.8 L609.8 864.8 L609.8 907.8 L602.4 906.6 Z" fill="none" stroke="#15151a" stroke-width="1.12" stroke-linejoin="miter"/>
<line x1="609.9" y1="863.6" x2="609.9" y2="908.2" stroke="#15151a" stroke-width="1.6" />
<path d="M589.4 883.8 L602.4 883.8 L602.4 892.9 L589.4 892.9 L588.2 891.6 L588.2 885.0 Z" fill="#fff" stroke="#15151a" stroke-width="1.1" />
<line x1="595.3" y1="884.2" x2="595.3" y2="892.6" stroke="#15151a" stroke-width="0.9" />
<path d="M610.4 883.8 L614.4 883.8 L615.4 885.0 L615.4 891.6 L614.4 892.9 L610.4 892.9 Z" fill="#fff" stroke="#15151a" stroke-width="1.0" />
<rect x="582.9" y="893.2" width="19.5" height="10.4" fill="#fff" stroke="#15151a" stroke-width="1.2"/>
<path d="M610.4 893.2 L621.4 893.2 L621.4 904.4 L610.4 904.4 Z" fill="#fff" stroke="#15151a" stroke-width="1.0" />
<line x1="610.6" y1="895.6" x2="618.4" y2="904.6" stroke="#15151a" stroke-width="0.8" />
<path d="M581.4 903.8 L602.4 903.8 L602.4 906.8 L581.4 906.2 Z" fill="#161616" stroke="#15151a" stroke-width="0.8" />
<path d="M581.4 906.2 L623.0 911.0 L623.0 904.6" fill="none" stroke="#15151a" stroke-width="0.9" />
<rect x="618.0" y="904.6" width="4.8" height="5.6" fill="#fff" stroke="#15151a" stroke-width="1.1"/>
<path d="M581.4 923.8 L601.9 923.8 L601.9 943.4 L581.4 943.4 Q579.4 943.4 579.4 941.4 L579.4 925.8 Q579.4 923.8 581.4 923.8 Z" fill="#161616"/>
<rect x="581.0" y="924.6" width="20.6" height="2.4" fill="#cfcfcf"/>
<line x1="588.2" y1="928.0" x2="588.2" y2="942.0" stroke="#e8e8e8" stroke-width="1.1" />
<line x1="591.4" y1="928.0" x2="591.4" y2="942.0" stroke="#f2f2f2" stroke-width="1.2" />
<line x1="594.6" y1="928.0" x2="594.6" y2="942.0" stroke="#e8e8e8" stroke-width="1.2" />
<line x1="584.8" y1="928.0" x2="584.8" y2="942.0" stroke="#888" stroke-width="0.7" />
<line x1="597.8" y1="928.0" x2="597.8" y2="942.0" stroke="#8a8a8a" stroke-width="2.2" />
<path d="M601.9 923.8 L621.0 923.8 L623.8 926.6 L623.8 943.4 L601.9 943.4 Z" fill="#161616"/>
<path d="M603.6 925.2 L619.4 925.2 L616.8 929.6 L602.6 929.6 Z" fill="#fff" stroke="#15151a" stroke-width="0.6" />
<path d="M620.6 925.4 L622.8 927.4 L622.8 929.8 L618.4 929.8 Z" fill="#fff" stroke="#15151a" stroke-width="0.5" />
<rect x="609.6" y="933.6" width="5.6" height="4.6" fill="#e4e4e4"/>
<line x1="610.2" y1="934.2" x2="614.6" y2="937.6" stroke="#161616" stroke-width="0.8" />
<line x1="610.2" y1="937.6" x2="614.6" y2="934.2" stroke="#161616" stroke-width="0.8" />
<rect x="617.2" y="934.8" width="3.6" height="1.1" fill="#ddd"/>
<rect x="609.4" y="940.4" width="4.8" height="1.6" fill="#eee"/>
<rect x="616.8" y="940.2" width="4.8" height="2.0" rx="1" fill="#eee"/>
<rect x="595.0" y="943.2" width="7.0" height="7.2" fill="#161616"/>
<rect x="576.4" y="950.2" width="25.2" height="10.6" rx="1.6" fill="#161616"/>
<line x1="579.6" y1="951.6" x2="579.6" y2="959.6" stroke="#777" stroke-width="0.8" />
<line x1="582.4" y1="951.6" x2="582.4" y2="959.6" stroke="#999" stroke-width="0.9" />
<line x1="585.4" y1="951.6" x2="585.4" y2="959.6" stroke="#bbb" stroke-width="1.0" />
<line x1="588.4" y1="951.6" x2="588.4" y2="959.6" stroke="#d8d8d8" stroke-width="1.0" />
<line x1="591.6" y1="951.6" x2="591.6" y2="959.6" stroke="#eee" stroke-width="1.1" />
<line x1="594.8" y1="951.6" x2="594.8" y2="959.6" stroke="#eee" stroke-width="1.1" />
<line x1="598.0" y1="951.6" x2="598.0" y2="959.6" stroke="#aaa" stroke-width="1.6" />
<path d="M601.9 932.4 L609.2 932.4 L609.2 975.0 L601.9 973.6 Z" fill="#fff" stroke="#15151a" stroke-width="0.9" />
<line x1="607.4" y1="932.0" x2="607.4" y2="975.0" stroke="#15151a" stroke-width="1.6" />
<line x1="601.9" y1="943.6" x2="601.9" y2="973.6" stroke="#15151a" stroke-width="1.3" />
<line x1="602.2" y1="946.2" x2="607.0" y2="951.2" stroke="#15151a" stroke-width="0.8" />
<line x1="602.2" y1="962.0" x2="607.0" y2="969.4" stroke="#15151a" stroke-width="0.8" />
<line x1="603.8" y1="934.0" x2="606.6" y2="943.0" stroke="#15151a" stroke-width="0.8" />
<rect x="612.6" y="950.6" width="13.0" height="9.6" rx="1.6" fill="#fff" stroke="#15151a" stroke-width="1.2"/>
<rect x="609.4" y="951.4" width="3.4" height="8.2" rx="1.2" fill="#fff" stroke="#15151a" stroke-width="0.9"/>
<path d="M586.4 961.9 L601.9 961.9 L601.9 973.4 L586.4 969.8 Z" fill="#fff" stroke="#15151a" stroke-width="1.1" />
<line x1="586.4" y1="963.4" x2="601.9" y2="963.4" stroke="#15151a" stroke-width="0.7" />
<path d="M609.2 960.6 L613.0 960.6 L615.2 963.6 L615.2 975.8 L609.2 975.0 Z" fill="#fff" stroke="#15151a" stroke-width="1.0" />
<line x1="609.6" y1="968.4" x2="614.8" y2="962.6" stroke="#15151a" stroke-width="0.8" />
<line x1="611.6" y1="975.0" x2="611.6" y2="970.6" stroke="#15151a" stroke-width="0.8" />
<line x1="609.4" y1="970.8" x2="612.0" y2="970.8" stroke="#15151a" stroke-width="0.7" />
</svg>
</body></html>
